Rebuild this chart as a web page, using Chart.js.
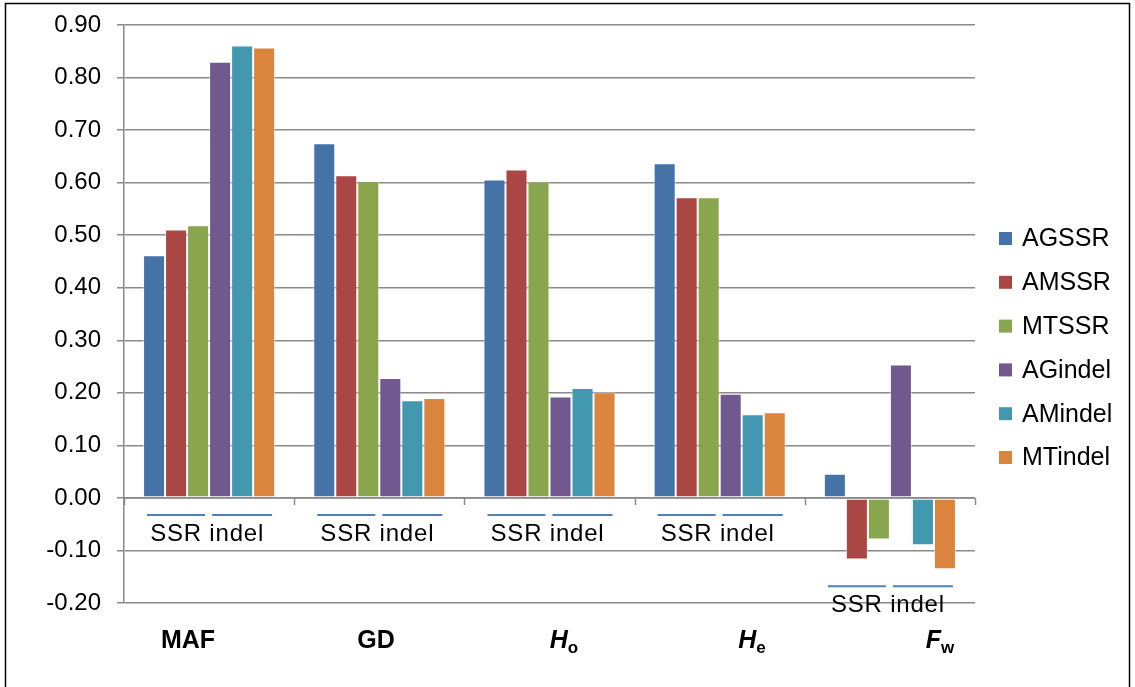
<!DOCTYPE html>
<html lang="en">
<head>
    <meta charset="UTF-8">
    <title>SSR vs indel diversity</title>
    <script src="https://cdn.jsdelivr.net/npm/chart.js@4.4.0/dist/chart.umd.min.js"></script>
    <style>
        html, body { margin: 0; padding: 0; background: #fff; }
        #wrap { width: 1135px; height: 687px; }
    </style>
</head>
<body>
    <div id="wrap"><canvas id="chart" width="1135" height="687"></canvas></div>

    <script>
        // categories (main label + optional subscript, italic flag)
        const categories = ['MAF', 'GD', 'Ho', 'He', 'Fw'];
        const catMain = ['MAF', 'GD', 'H', 'H', 'F'];
        const catSub = ['', '', 'o', 'e', 'w'];
        const catItalic = [false, false, true, true, true];

        const seriesNames = ['AGSSR', 'AMSSR', 'MTSSR', 'AGindel', 'AMindel', 'MTindel'];
        const seriesColors = ['#4572A7', '#AA4643', '#89A54E', '#71588F', '#4198AF', '#DB843D'];

        const agssr   = [0.462, 0.675, 0.606, 0.637, 0.046];
        const amssr   = [0.511, 0.614, 0.625, 0.572, -0.117];
        const mtssr   = [0.519, 0.603, 0.602, 0.572, -0.079];
        const agindel = [0.830, 0.228, 0.193, 0.198, 0.254];
        const amindel = [0.861, 0.186, 0.209, 0.159, -0.090];
        const mtindel = [0.857, 0.190, 0.201, 0.163, -0.136];

        const yTicks = [0.9, 0.8, 0.7, 0.6, 0.5, 0.4, 0.3, 0.2, 0.1, 0.0, -0.1, -0.2];
        const groupNotes = ['SSR', 'indel'];

        const allSeries = [agssr, amssr, mtssr, agindel, amindel, mtindel];
        const FONT = '"Liberation Sans", Arial, sans-serif';
        const GRID = '#8a8a8a';

        // frame, zero line, group notes, category labels and legend
        const decor = {
            id: 'decor',
            beforeDraw(chart) {
                const ctx = chart.ctx;
                ctx.save();
                ctx.fillStyle = '#fff';
                ctx.fillRect(0, 0, chart.width, chart.height);
                ctx.strokeStyle = '#000';
                ctx.lineWidth = 1.5;
                ctx.strokeRect(5.5, 3.5, 1124, 700);
                ctx.restore();
            },
            afterDatasetsDraw(chart) {
                const ctx = chart.ctx;
                const y = chart.scales.y;
                const area = chart.chartArea;
                const y0 = y.getPixelForValue(0);
                const step = (area.right - area.left) / categories.length;

                ctx.save();
                // zero axis line with boundary ticks
                ctx.strokeStyle = GRID;
                ctx.lineWidth = 1.5;
                ctx.beginPath();
                ctx.moveTo(area.left, y0);
                ctx.lineTo(area.right, y0);
                for (let i = 0; i <= categories.length; i++) {
                    const bx = Math.round(area.left + i * step) + 0.5;
                    ctx.moveTo(bx, y0);
                    ctx.lineTo(bx, y0 + 7);
                }
                ctx.stroke();

                // SSR / indel notes under each group
                ctx.font = '24px ' + FONT;
                ctx.letterSpacing = '0.8px';
                ctx.textAlign = 'center';
                ctx.textBaseline = 'middle';
                categories.forEach((c, i) => {
                    const m0 = chart.getDatasetMeta(0).data[i];
                    const m2 = chart.getDatasetMeta(2).data[i];
                    const m3 = chart.getDatasetMeta(3).data[i];
                    const m5 = chart.getDatasetMeta(5).data[i];
                    const halfW = m0.width / 2;
                    let lowest = 0;
                    allSeries.forEach(s => { lowest = Math.min(lowest, s[i]); });
                    const lineY = Math.max(y0, y.getPixelForValue(lowest)) + 17;
                    ctx.strokeStyle = '#4F81BD';
                    ctx.lineWidth = 2;
                    ctx.beginPath();
                    ctx.moveTo(m0.x - halfW + 4, lineY);
                    ctx.lineTo(m2.x + halfW - 4, lineY);
                    ctx.moveTo(m3.x - halfW + 3, lineY);
                    ctx.lineTo(m5.x + halfW - 3, lineY);
                    ctx.stroke();
                    ctx.fillStyle = '#000';
                    const cx = (m0.x + m5.x) / 2;
                    ctx.fillText(groupNotes[0] + ' ' + groupNotes[1], cx - 2, lineY + 19);
                });
                ctx.letterSpacing = '0px';

                // category labels along the bottom
                const labelY = area.bottom + 38;
                categories.forEach((c, i) => {
                    const cx = area.left + 64 + i * 188;
                    const mainFont = (catItalic[i] ? 'italic ' : '') + 'bold 25px ' + FONT;
                    const subFont = 'bold 17px ' + FONT;
                    ctx.font = mainFont;
                    const w1 = ctx.measureText(catMain[i]).width;
                    ctx.font = subFont;
                    const w2 = catSub[i] ? ctx.measureText(catSub[i]).width : 0;
                    const sx = cx - (w1 + w2) / 2;
                    ctx.textAlign = 'left';
                    ctx.fillStyle = '#000';
                    ctx.font = mainFont;
                    ctx.fillText(catMain[i], sx, labelY);
                    if (catSub[i]) {
                        ctx.font = subFont;
                        ctx.fillText(catSub[i], sx + w1, labelY + 7);
                    }
                });

                // legend
                ctx.font = '25px ' + FONT;
                ctx.textAlign = 'left';
                seriesNames.forEach((name, i) => {
                    const ly = 238.5 + i * 43.8;
                    ctx.fillStyle = seriesColors[i];
                    ctx.fillRect(999, ly - 6.5, 13, 13);
                    ctx.fillStyle = '#000';
                    ctx.fillText(name, 1022, ly + 1);
                });
                ctx.restore();
            }
        };

        new Chart(document.getElementById('chart'), {
            type: 'bar',
            data: {
                labels: categories,
                datasets: seriesNames.map((name, i) => ({
                    label: name,
                    data: allSeries[i],
                    backgroundColor: seriesColors[i],
                    borderColor: 'rgba(255,255,255,0.5)',
                    borderWidth: 1,
                    borderSkipped: false,
                    barPercentage: 1.0,
                    categoryPercentage: 0.776
                }))
            },
            options: {
                responsive: false,
                animation: false,
                devicePixelRatio: 1,
                layout: { padding: { left: 0, right: 160, top: 25, bottom: 84 } },
                plugins: {
                    legend: { display: false },
                    tooltip: { enabled: false }
                },
                scales: {
                    x: {
                        display: false,
                        grid: { display: false }
                    },
                    y: {
                        min: -0.2,
                        max: 0.9,
                        afterFit(scale) {
                            scale.width = 124;
                            scale.paddingTop = 0;
                            scale.paddingBottom = 0;
                        },
                        afterBuildTicks(scale) {
                            scale.ticks = yTicks.slice().reverse().map(v => ({ value: v }));
                        },
                        ticks: {
                            color: '#000',
                            padding: 16,
                            font: { family: FONT, size: 24 },
                            callback: v => v.toFixed(2)
                        },
                        grid: {
                            color: GRID,
                            lineWidth: 1.5,
                            tickLength: 7,
                            tickColor: GRID
                        },
                        border: { color: GRID, width: 1.5 }
                    }
                }
            },
            plugins: [decor]
        });
    </script>
</body>
</html>
